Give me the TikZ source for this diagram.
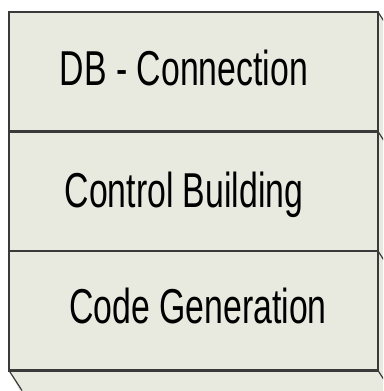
\documentclass[tikz,border=0pt]{standalone}
\usepackage{fontspec}
\setmainfont{Liberation Sans}
\usetikzlibrary{calc}
\definecolor{panel}{HTML}{E9EADF}
\definecolor{edge}{HTML}{3A3A3A}
\begin{document}
\begin{tikzpicture}[x=1pt,y=1pt,
  layer/.style={draw=edge, line width=2.2pt, fill=panel,
    minimum width=369pt, minimum height=119.5pt,
    anchor=north west, inner sep=0pt, outer sep=0pt},
  caption/.style={font=\fontsize{49}{49}\selectfont, inner sep=0pt, anchor=base},
  depthline/.style={draw=edge, line width=1.2pt}]
\useasboundingbox (0,0) rectangle (383,-391);
\fill[white] (0,0) rectangle (383,-391);
% receding side and bottom faces of the stack
\begin{scope}
  \clip (0,0) rectangle (383,-391);
  \fill[panel] (378,-12) -- (404,-52) -- (404,-420) -- (35,-420)
    -- (9,-370) -- (378,-370) -- cycle;
\end{scope}
% the three stacked layers
\node[layer] (db) at (9,-12) {};
\node[layer] (cb) at (db.south west) {};
\node[layer] (cg) at (cb.south west) {};
% captions
\node[caption] (dbt) at ($(db.north west)+(175,-73)$) {\scalebox{0.69}[1]{DB - Connection}};
\node[caption] (cbt) at ($(cb.north west)+(175,-75.5)$) {\scalebox{0.69}[1]{Control Building}};
\node[caption] (cgt) at ($(cg.north west)+(189,-72.5)$) {\scalebox{0.69}[1]{Code Generation}};
% depth edges
\begin{scope}
  \clip (0,0) rectangle (383,-391);
  \coordinate (e1) at ($(db.north east)+(13,-20)$);
  \coordinate (e2) at ($(cb.north east)+(13,-20)$);
  \coordinate (e3) at ($(cg.north east)+(13,-20)$);
  \coordinate (e4) at ($(cg.south east)+(13,-20)$);
  \coordinate (e5) at ($(cg.south west)+(13,-20)$);
  \draw[depthline] (db.north east) -- (e1);
  \draw[depthline] (cb.north east) -- (e2);
  \draw[depthline] (cg.north east) -- (e3);
  \draw[depthline] (cg.south east) -- (e4);
  \draw[depthline] (cg.south west) -- (e5);
\end{scope}
\end{tikzpicture}
\end{document}
